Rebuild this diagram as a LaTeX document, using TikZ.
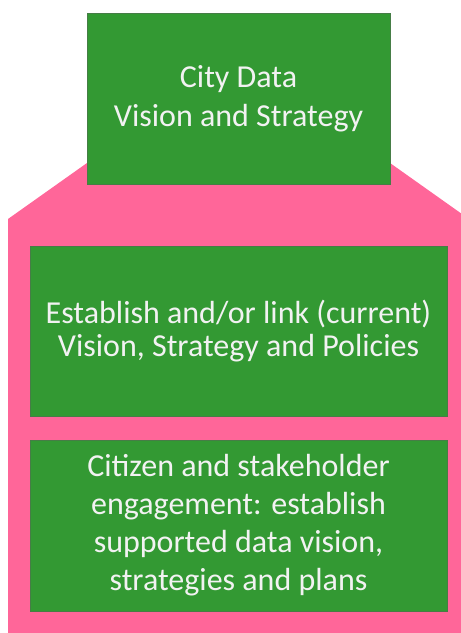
\documentclass[tikz,border=0pt]{standalone}
\usepackage{fontspec}
\setmainfont{Carlito}
\definecolor{boxgreen}{RGB}{51,153,51}
\definecolor{boxedge}{RGB}{70,125,70}
\definecolor{housepink}{RGB}{255,102,153}
\definecolor{textwhite}{RGB}{242,242,242}
\begin{document}
\begin{tikzpicture}[x=1pt,y=-1pt,
  greenbox/.style={fill=boxgreen, draw=boxedge, line width=0.7pt, inner sep=0pt,
    text=textwhite, align=center, anchor=center}]
\useasboundingbox (0,0) rectangle (461,633);
\begin{scope}
\clip (0,0) rectangle (461,633);
\fill[housepink] (8,640) -- (8,219) -- (238.5,55.6) -- (469,219) -- (469,640) -- cycle;
\end{scope}
\node[greenbox, minimum width=303pt, minimum height=171pt,
  font=\fontsize{32}{39}\selectfont] (top) at (238.5,98.5)
  {City Data\\Vision and Strategy};
\node[greenbox, minimum width=417pt, minimum height=170pt,
  font=\fontsize{32}{33}\selectfont] (mid) at (238.5,331)
  {Establish and/or link (current)\\Vision, Strategy and Policies};
\node[greenbox, minimum width=417pt, minimum height=171pt,
  font=\fontsize{32}{38}\selectfont] (bot) at (238.5,525.5)
  {Citizen and stakeholder\\engagement: establish\\supported data vision,\\strategies and plans};
\end{tikzpicture}
\end{document}
